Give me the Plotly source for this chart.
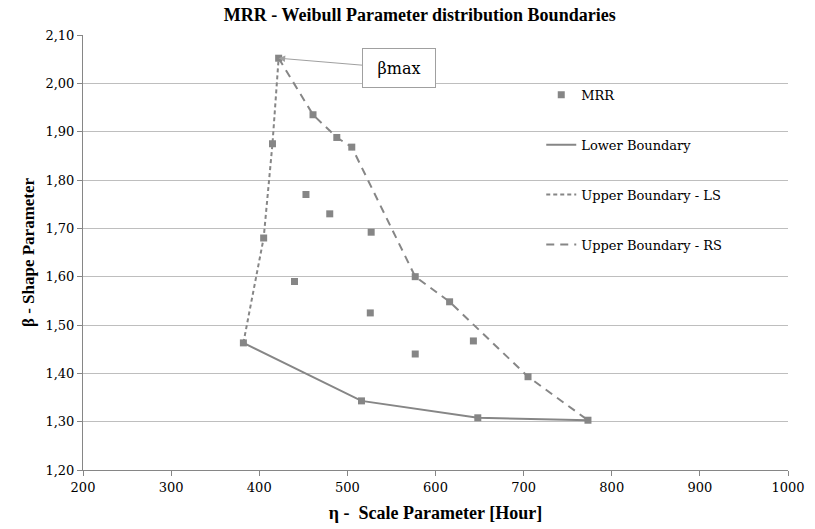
import plotly.graph_objects as go

# MRR data points (eta = scale, beta = shape)
mrr_eta = [382, 422, 415, 405, 440, 453, 461, 480, 488, 505, 516, 526, 527, 577, 577, 616, 643, 648, 705, 773]
mrr_beta = [1.463, 2.052, 1.875, 1.680, 1.590, 1.770, 1.935, 1.730, 1.888, 1.868, 1.343, 1.525, 1.692, 1.600, 1.440, 1.548, 1.467, 1.308, 1.393, 1.303]

lower_eta = [382, 516, 648, 773]
lower_beta = [1.463, 1.343, 1.308, 1.303]

ls_eta = [382, 405, 415, 422]
ls_beta = [1.463, 1.680, 1.875, 2.052]

rs_eta = [422, 461, 488, 505, 577, 616, 705, 773]
rs_beta = [2.052, 1.935, 1.888, 1.868, 1.600, 1.548, 1.393, 1.303]

x_ticks = [200, 300, 400, 500, 600, 700, 800, 900, 1000]
y_ticks = [1.2, 1.3, 1.4, 1.5, 1.6, 1.7, 1.8, 1.9, 2.0, 2.1]

GRAY = "#868686"
SERIF = "Liberation Serif"
SERIF_REG = "DejaVu Serif"

fig = go.Figure()
fig.add_trace(go.Scatter(x=lower_eta, y=lower_beta, mode="lines", name="Lower Boundary",
                         line=dict(color=GRAY, width=2), legendgroup="b", legendrank=2))
fig.add_trace(go.Scatter(x=ls_eta, y=ls_beta, mode="lines", name="Upper Boundary - LS",
                         line=dict(color=GRAY, width=2, dash="4px,3px"), legendgroup="c", legendrank=3))
fig.add_trace(go.Scatter(x=rs_eta, y=rs_beta, mode="lines", name="Upper Boundary - RS",
                         line=dict(color=GRAY, width=2, dash="8px,6px"), legendgroup="d", legendrank=4))
fig.add_trace(go.Scatter(x=mrr_eta, y=mrr_beta, mode="markers", name="MRR",
                         marker=dict(symbol="square", size=7, color=GRAY), legendgroup="a", legendrank=1))

fig.add_annotation(x=422, y=2.052, text="βmax", showarrow=True, arrowhead=2, arrowsize=1.3,
                   arrowwidth=1, arrowcolor="#a0a0a0", ax=120, ay=10,
                   font=dict(family=SERIF_REG, size=16, color="black"),
                   bordercolor="#a0a0a0", borderwidth=1, borderpad=3, bgcolor="white",
                   width=66, height=32)

fig.update_layout(
    width=815, height=529,
    margin=dict(l=83, r=10, t=35, b=58),
    paper_bgcolor="white", plot_bgcolor="white",
    separators=",.",
    font=dict(family=SERIF_REG, size=13, color="black"),
    title=dict(text="<b>MRR - Weibull Parameter distribution Boundaries</b>",
               x=0.515, xanchor="center", y=0.972, yanchor="middle",
               font=dict(family=SERIF, size=18, color="black")),
    legend=dict(x=0.650, y=0.897, xanchor="left", yanchor="top", bgcolor="rgba(0,0,0,0)",
                font=dict(family=SERIF_REG, size=13, color="black"), tracegroupgap=30,
                itemwidth=30),
    showlegend=True,
)
fig.update_xaxes(range=[200, 1000], tickvals=x_ticks, showgrid=False, zeroline=False,
                 showline=True, linecolor=GRAY, linewidth=1, ticks="outside", ticklen=5,
                 tickcolor=GRAY, tickfont=dict(family=SERIF_REG, size=13, color="black"),
                 ticklabeloverflow="allow",
                 title=dict(text="<b>η -  Scale Parameter [Hour]</b>", standoff=12,
                            font=dict(family=SERIF, size=18, color="black")))
fig.update_yaxes(range=[1.2, 2.1], tickvals=y_ticks, tickformat=".2f", showgrid=True,
                 gridcolor="#bebebe", gridwidth=1, zeroline=False,
                 showline=True, linecolor=GRAY, linewidth=1, ticks="outside", ticklen=5,
                 tickcolor=GRAY, tickfont=dict(family=SERIF_REG, size=13, color="black"),
                 title=dict(text="<b>β - Shape Parameter</b>", standoff=6,
                            font=dict(family=SERIF, size=17, color="black")))

fig.write_html("out.html")
